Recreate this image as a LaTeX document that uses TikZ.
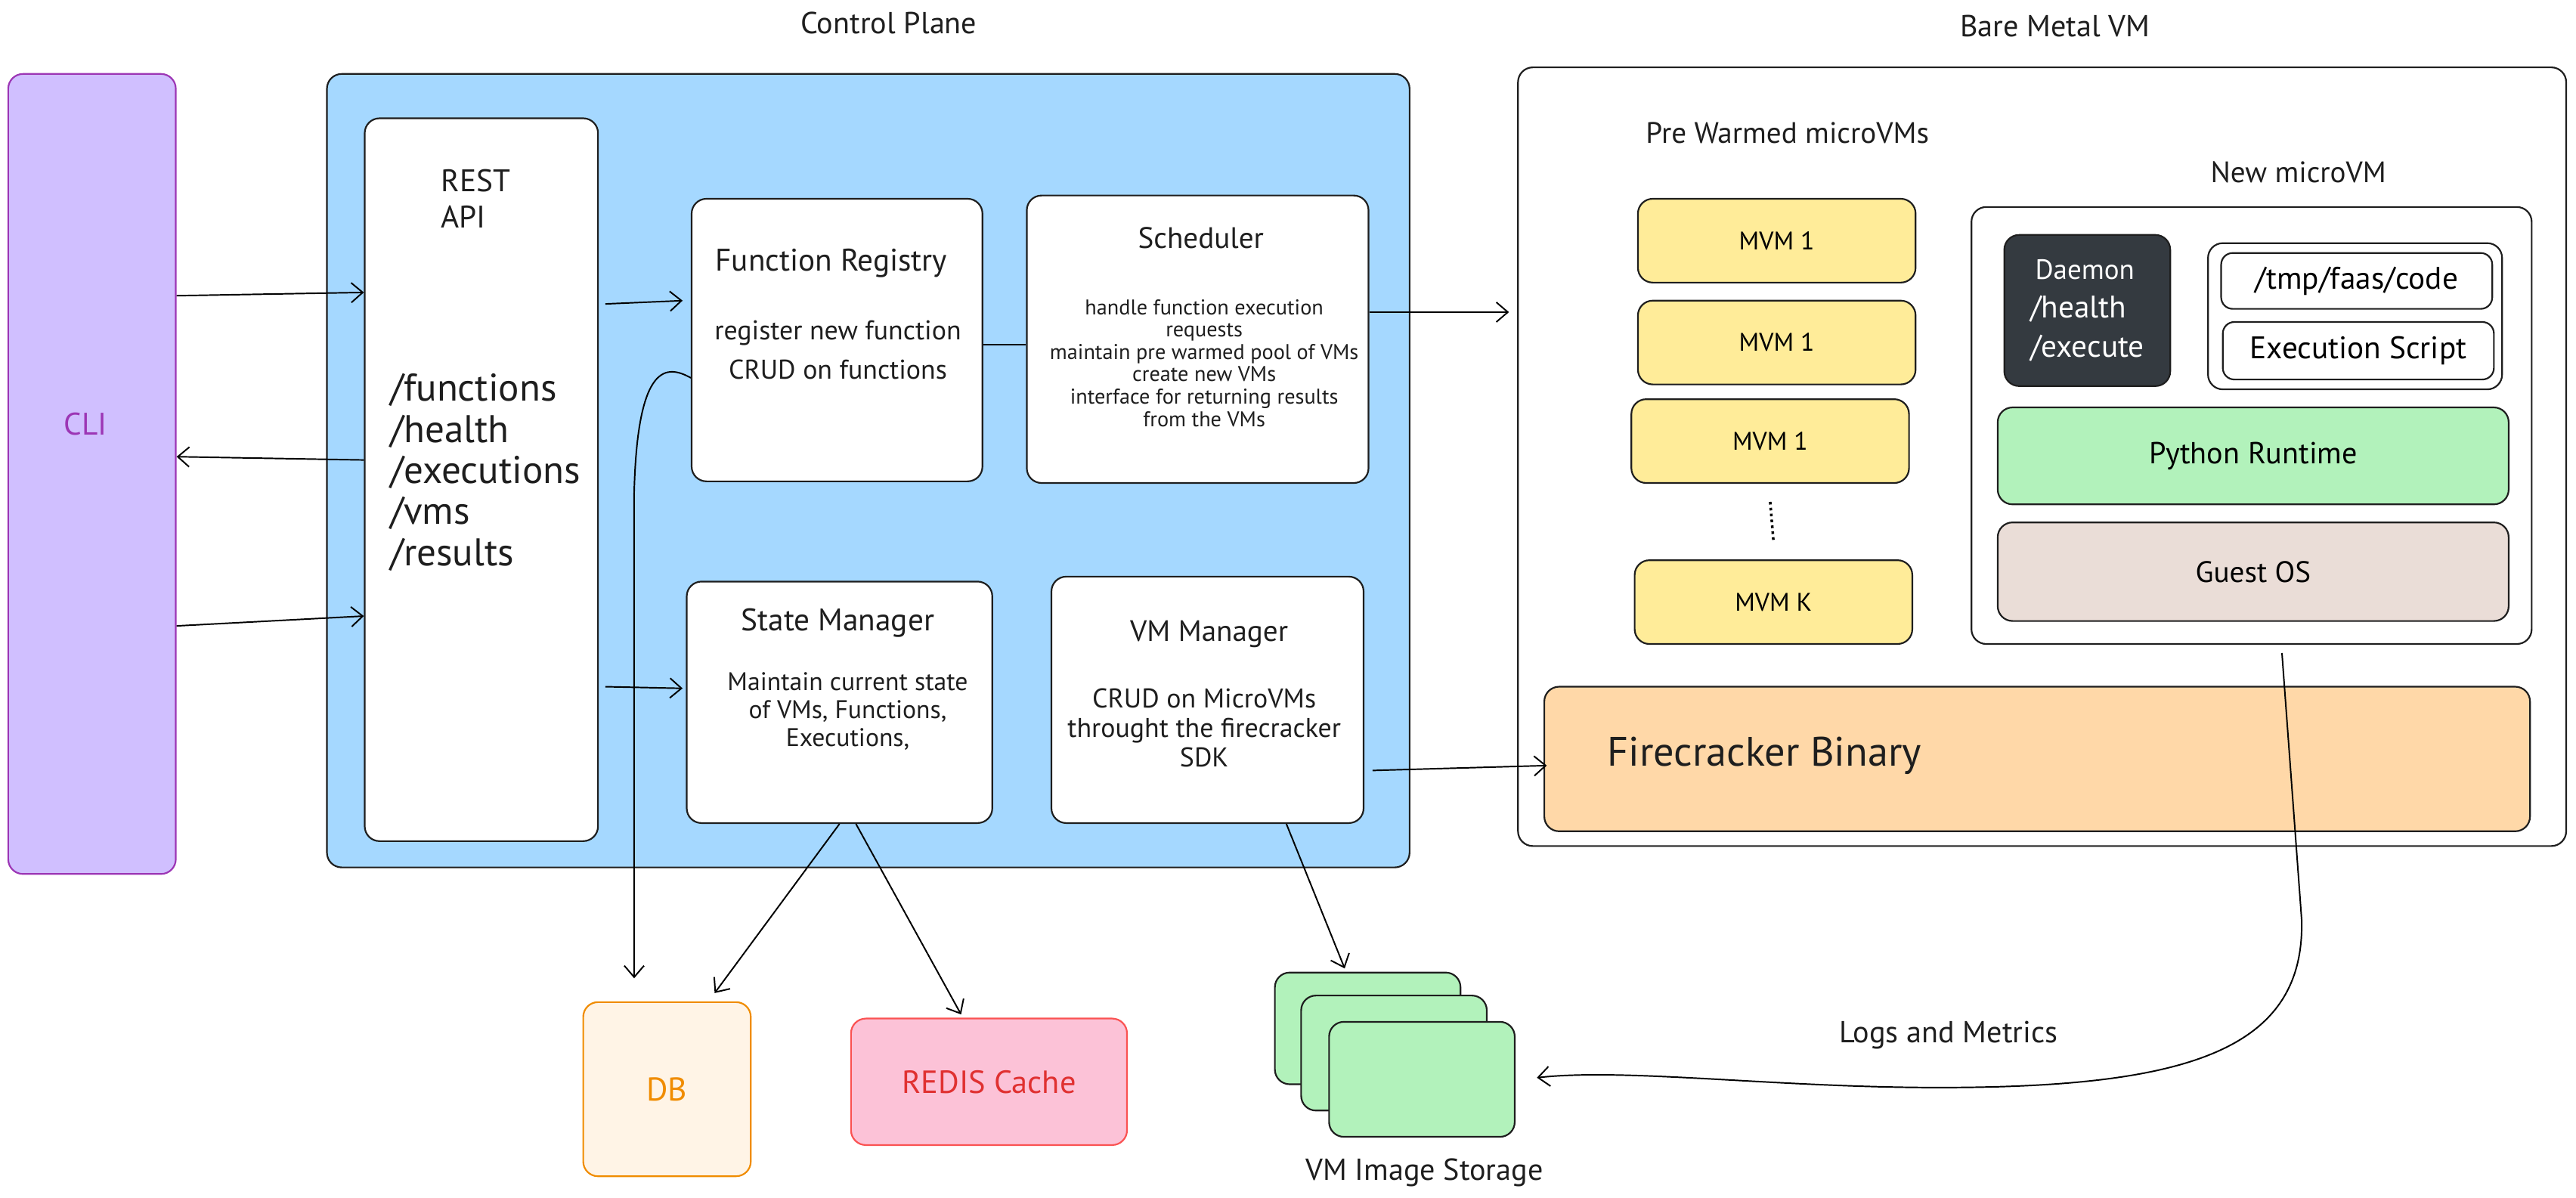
\documentclass[tikz,border=0pt]{standalone}
\usepackage{fontspec}
\setmainfont{PT Sans}
\usetikzlibrary{arrows.meta}
\definecolor{clifill}{HTML}{D0BFFF}
\definecolor{clistroke}{HTML}{9C36B5}
\definecolor{planefill}{HTML}{A5D8FF}
\definecolor{mvmfill}{HTML}{FFEC99}
\definecolor{pyfill}{HTML}{B2F2BB}
\definecolor{guestfill}{HTML}{EADDD7}
\definecolor{firefill}{HTML}{FFD8A8}
\definecolor{dbfill}{HTML}{FFF4E6}
\definecolor{dbstroke}{HTML}{F08C00}
\definecolor{redisfill}{HTML}{FCC2D7}
\definecolor{redisstroke}{HTML}{FA5252}
\definecolor{redistext}{HTML}{E03131}
\definecolor{daemonfill}{HTML}{343A40}
\definecolor{ink}{HTML}{1E1E1E}
\newcommand{\setfs}[2]{\fontsize{#1}{#2}\selectfont}
\tikzset{
  box/.style={draw=ink,rounded corners=9pt,line width=1pt,inner sep=0pt},
  lbl/.style={inner sep=0pt,align=center,text=ink},
}

\begin{document}
\begin{tikzpicture}[x=1pt,y=-1pt,>={Straight Barb[length=7pt,width=12pt]},line width=0.9pt]
        \useasboundingbox(0,0)rectangle(1568,729.2);
        % client and control plane
        \node(cli)at(56,288.5)[box,draw=clistroke,fill=clifill,minimum width=102,minimum height=487]{};
        \node(clitext)at(52,258)[lbl,text=clistroke,font=\setfs{19}{22}]{CLI};
        \node(plane)at(528.5,286.5)[box,fill=planefill,minimum width=659,minimum height=483]{};
        \node(planetitle)at(541,14)[lbl,font=\setfs{18.5}{22}]{Control Plane};
        \node(rest)at(293,292)[box,fill=white,minimum width=142,minimum height=440]{};
        \node(resttitle)at(268,121)[lbl,anchor=west,align=left,font=\setfs{19}{22}]{REST\\API};
        \node(routes)at(237,287.5)[lbl,anchor=west,align=left,font=\setfs{23.5}{25}]{/functions\\/health\\/executions\\/vms\\/results};
        \node(registry)at(509.5,207)[box,fill=white,minimum width=177,minimum height=172]{};
        \node(registrytitle)at(506,160)[lbl,font=\setfs{19}{22}]{Function Registry};
        \node(registrybody)at(510,213)[lbl,font=\setfs{16.5}{24}]{register new function\\CRUD on functions};
        \node(sched)at(729,206.5)[box,fill=white,minimum width=208,minimum height=175]{};
        \node(schedtitle)at(731,145)[lbl,font=\setfs{18}{22}]{Scheduler};
        \node(schedbody)at(733,221)[lbl,font=\setfs{13}{13.6}]{handle function execution\\requests\\maintain pre warmed pool of VMs\\create new VMs\\interface for returning results\\from the VMs};
        \node(state)at(511,427.5)[box,fill=white,minimum width=186,minimum height=147]{};
        \node(statetitle)at(510,379)[lbl,font=\setfs{19}{22}]{State Manager};
        \node(statebody)at(516,433)[lbl,font=\setfs{15.5}{17}]{Maintain current state\\of VMs, Functions,\\Executions,};
        \node(vmm)at(735,426)[box,fill=white,minimum width=190,minimum height=150]{};
        \node(vmmtitle)at(736,386)[lbl,font=\setfs{18}{22}]{VM Manager};
        \node(vmmbody)at(733,443)[lbl,font=\setfs{16.5}{18}]{CRUD on MicroVMs\\throught the firecracker\\SDK};
        % bare metal host
        \node(bare)at(1243,278)[box,fill=white,minimum width=638,minimum height=474]{};
        \node(baretitle)at(1251,16)[lbl,font=\setfs{18.5}{22}]{Bare Metal VM};
        \node(pooltitle)at(1088,81)[lbl,font=\setfs{18}{22}]{Pre Warmed microVMs};
        \node(mvm1)at(1081.5,146.5)[box,fill=mvmfill,minimum width=169,minimum height=51,font=\setfs{15.5}{18}]{MVM 1};
        \node(mvm2)at(1081.5,208.5)[box,fill=mvmfill,minimum width=169,minimum height=51,font=\setfs{15.5}{18}]{MVM 1};
        \node(mvm3)at(1077.5,268.5)[box,fill=mvmfill,minimum width=169,minimum height=51,font=\setfs{15.5}{18}]{MVM 1};
        \node(mvmk)at(1079.5,366.5)[box,fill=mvmfill,minimum width=169,minimum height=51,font=\setfs{15.5}{18}]{MVM K};
        \draw[dotted,line width=1.6pt]([yshift=-11pt]mvm3.south)--([yshift=11pt]mvmk.north);
        \node(newtitle)at(1399,105)[lbl,font=\setfs{18}{22}]{New microVM};
        \node(newvm)at(1370.5,259)[box,fill=white,minimum width=341,minimum height=266]{};
        \node(daemon)at(1270.5,189)[box,fill=daemonfill,text=white,minimum width=101,minimum height=92,align=left,font=\setfs{19}{23.5}]{\hspace*{3pt}{\fontsize{17}{20}\selectfont Daemon}\\/health\\/execute};
        \node(codegrp)at(1433.5,192.5)[box,fill=white,minimum width=179,minimum height=89]{};
        \node(tmpcode)at(1434.5,171)[box,fill=white,rounded corners=7pt,minimum width=165,minimum height=34,font=\setfs{19}{22}]{/tmp/faas/code};
        \node(script)at(1435.5,213.5)[box,fill=white,rounded corners=7pt,minimum width=165,minimum height=35,font=\setfs{19}{22}]{Execution Script};
        \node(python)at(1371.5,277.5)[box,fill=pyfill,minimum width=311,minimum height=59,font=\setfs{18.5}{22}]{Python Runtime};
        \node(guest)at(1371.5,348)[box,fill=guestfill,minimum width=311,minimum height=60,font=\setfs{18}{22}]{Guest OS};
        \node(fire)at(1240,462)[box,fill=firefill,minimum width=600,minimum height=88]{};
        \node(firetext)at(978,460)[lbl,anchor=west,font=\setfs{25}{29}]{Firecracker Binary};
        % storage
        \node(db)at(406,663)[box,draw=dbstroke,fill=dbfill,text=dbstroke,minimum width=102,minimum height=106,font=\setfs{20}{24}]{DB};
        \node(redis)at(602,658.5)[box,draw=redisstroke,fill=redisfill,text=redistext,minimum width=168,minimum height=77,font=\setfs{19.5}{23}]{REDIS Cache};
        \node(s1)at(832.5,626)[box,fill=pyfill,minimum width=113,minimum height=68]{};
        \node(s2)at(848.5,641)[box,fill=pyfill,minimum width=113,minimum height=70]{};
        \node(s3)at(865.5,657)[box,fill=pyfill,minimum width=113,minimum height=70]{};
        \node(storetitle)at(867,714)[lbl,font=\setfs{18.5}{22}]{VM Image Storage};
        \node(logstitle)at(1186,630)[lbl,font=\setfs{18.5}{22}]{Logs and Metrics};
        \coordinate(dbbend)at(386,300);
        \coordinate(logsbend)at(1401,560);
        % connectors
        \draw[->]([yshift=108.5pt]cli.east)--([yshift=114pt]rest.west);
        \draw[->]([yshift=12pt]rest.west)--([yshift=10.5pt]cli.east);
        \draw[->]([yshift=-92.5pt]cli.east)--([yshift=-83pt]rest.west);
        \draw[->]([xshift=4pt,yshift=107pt]rest.east)--([xshift=-5pt,yshift=24pt]registry.west);
        \draw[->]([xshift=4pt,yshift=-126pt]rest.east)--([xshift=-2pt,yshift=8.5pt]state.west);
        \draw([yshift=-3pt]registry.east)--([yshift=-3.5pt]sched.west);
        \draw[->]([yshift=16.5pt]sched.east)--([xshift=-5pt,yshift=88pt]bare.west);
        \draw[->]([xshift=5pt,yshift=-43pt]vmm.east)--([xshift=2pt,yshift=-4pt]fire.west);
        \draw[->]([yshift=-23pt]registry.west)..controls(406,222)and(388,220)..(dbbend)--([xshift=-20pt,yshift=14pt]db.north);
        \draw[->](state.south)--([xshift=29pt,yshift=5pt]db.north);
        \draw[->]([xshift=10pt]state.south)--([xshift=-17pt,yshift=2pt]redis.north);
        \draw[->]([xshift=48pt]vmm.south)--([xshift=-14pt,yshift=2pt]s1.north);
        \draw[->]([xshift=18.5pt,yshift=-5pt]newvm.south)--(logsbend)..controls(1403,640)and(1330,662)..(1180,662)..controls(1080,662)and(990,650)..([xshift=13pt,yshift=1pt]s3.east);
    \end{tikzpicture}
\end{document}
